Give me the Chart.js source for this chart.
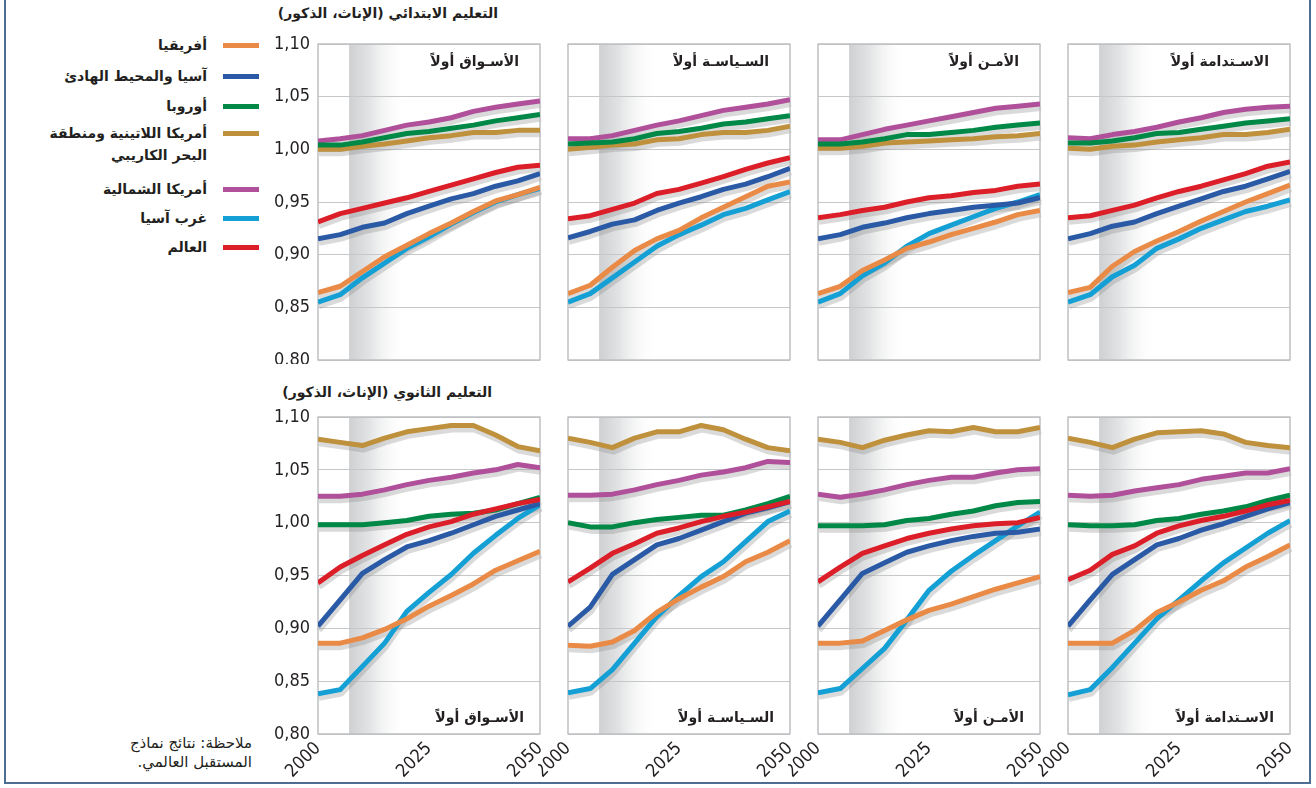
<!DOCTYPE html>
<html lang="ar">
<head>
<meta charset="utf-8">
<title>نسبة الإناث إلى الذكور في التعليم</title>
<script src="https://cdn.jsdelivr.net/npm/chart.js@4.4.1/dist/chart.umd.min.js"></script>
<style>
  html, body { margin: 0; padding: 0; background: #fff; }
  body { width: 1316px; height: 788px; position: relative; overflow: hidden;
         font-family: 'DejaVu Sans', 'Noto Sans', sans-serif; color: #231f20; }
  .frame { position: absolute; left: 4px; top: -10px; width: 1307px; height: 794px;
           border: 2px solid #4d6d93; box-sizing: border-box; }
  .txt { position: absolute; direction: rtl; white-space: pre; text-align: right; }
  .title { font-weight: bold; font-size: 14px; line-height: 20px; }
  .legend-label { font-weight: bold; font-size: 14px; line-height: 22px; }
  .legend-bar { position: absolute; width: 36px; height: 5px; }
  .note { font-size: 15px; line-height: 19px; }
  canvas { position: absolute; }
</style>
</head>
<body>
<div class="frame"></div>
<script>
// ---- data ---------------------------------------------------------------
const years = [2000, 2005, 2010, 2015, 2020, 2025, 2030, 2035, 2040, 2045, 2050];
const xTickYears = [2000, 2025, 2050];
const yTickValues = [0.80, 0.85, 0.90, 0.95, 1.00, 1.05, 1.10];

const regionNames = [
  'أفريقيا',
  'آسيا والمحيط الهادئ',
  'أوروبا',
  'أمريكا اللاتينية ومنطقة البحر الكاريبي',
  'أمريكا الشمالية',
  'غرب آسيا',
  'العالم'
];
const legendLines = [
  'أفريقيا',
  'آسيا والمحيط الهادئ',
  'أوروبا',
  'أمريكا اللاتينية ومنطقة\nالبحر الكاريبي',
  'أمريكا الشمالية',
  'غرب آسيا',
  'العالم'
];
const regionColors = ['#e98b46', '#2a5aa6', '#008846', '#bf913c', '#b0509a', '#14a0d4', '#dc1e28'];
const drawOrder = [1, 2, 3, 4, 5, 6, 0];

const scenarioNames = ['الأسـواق أولاً', 'السـياسـة أولاً', 'الأمـن أولاً', 'الاسـتدامة أولاً'];
const rowTitles = ['التعليم الابتدائي (الإناث، الذكور)', 'التعليم الثانوي (الإناث، الذكور)'];
const noteText = 'ملاحظة: نتائج نماذج\nالمستقبل العالمي.';

// primary education, one row per region (same order as regionNames)
const primaryMarkets = [
  [0.864, 0.870, 0.884, 0.898, 0.909, 0.920, 0.930, 0.941, 0.951, 0.957, 0.964],
  [0.915, 0.919, 0.926, 0.930, 0.939, 0.946, 0.953, 0.958, 0.965, 0.970, 0.977],
  [1.004, 1.004, 1.007, 1.011, 1.015, 1.017, 1.020, 1.023, 1.027, 1.030, 1.033],
  [1.000, 1.000, 1.003, 1.005, 1.008, 1.011, 1.013, 1.016, 1.016, 1.018, 1.018],
  [1.008, 1.010, 1.013, 1.018, 1.023, 1.026, 1.030, 1.036, 1.040, 1.043, 1.046],
  [0.855, 0.862, 0.878, 0.892, 0.906, 0.917, 0.929, 0.940, 0.950, 0.957, 0.963],
  [0.931, 0.939, 0.944, 0.949, 0.954, 0.960, 0.966, 0.972, 0.978, 0.983, 0.985]
];
const primaryPolicy = [
  [0.863, 0.871, 0.888, 0.904, 0.915, 0.923, 0.935, 0.945, 0.955, 0.965, 0.969],
  [0.916, 0.922, 0.929, 0.933, 0.942, 0.949, 0.955, 0.962, 0.967, 0.974, 0.982],
  [1.005, 1.006, 1.007, 1.010, 1.015, 1.017, 1.020, 1.024, 1.026, 1.029, 1.032],
  [1.000, 1.002, 1.004, 1.005, 1.009, 1.010, 1.014, 1.016, 1.016, 1.018, 1.022],
  [1.010, 1.010, 1.013, 1.018, 1.023, 1.027, 1.032, 1.037, 1.040, 1.043, 1.047],
  [0.855, 0.863, 0.878, 0.893, 0.908, 0.919, 0.928, 0.938, 0.944, 0.952, 0.960],
  [0.934, 0.937, 0.943, 0.949, 0.958, 0.962, 0.968, 0.974, 0.981, 0.987, 0.992]
];
const primarySecurity = [
  [0.863, 0.870, 0.885, 0.895, 0.906, 0.912, 0.919, 0.925, 0.931, 0.938, 0.942],
  [0.915, 0.919, 0.926, 0.930, 0.935, 0.939, 0.942, 0.945, 0.947, 0.949, 0.954],
  [1.005, 1.005, 1.007, 1.010, 1.014, 1.014, 1.016, 1.018, 1.021, 1.023, 1.025],
  [1.001, 1.001, 1.003, 1.006, 1.007, 1.008, 1.009, 1.010, 1.012, 1.013, 1.015],
  [1.009, 1.009, 1.014, 1.019, 1.023, 1.027, 1.031, 1.035, 1.039, 1.041, 1.043],
  [0.855, 0.863, 0.880, 0.892, 0.908, 0.920, 0.928, 0.936, 0.944, 0.950, 0.957],
  [0.935, 0.938, 0.942, 0.945, 0.950, 0.954, 0.956, 0.959, 0.961, 0.965, 0.967]
];
const primarySustainability = [
  [0.864, 0.869, 0.889, 0.903, 0.913, 0.922, 0.932, 0.941, 0.950, 0.958, 0.966],
  [0.915, 0.920, 0.927, 0.931, 0.939, 0.946, 0.953, 0.960, 0.965, 0.972, 0.979],
  [1.006, 1.006, 1.008, 1.011, 1.015, 1.016, 1.019, 1.022, 1.025, 1.027, 1.029],
  [1.001, 1.000, 1.003, 1.004, 1.007, 1.009, 1.011, 1.014, 1.014, 1.016, 1.019],
  [1.011, 1.010, 1.014, 1.017, 1.021, 1.026, 1.030, 1.035, 1.038, 1.040, 1.041],
  [0.855, 0.862, 0.879, 0.890, 0.906, 0.915, 0.925, 0.933, 0.941, 0.946, 0.952],
  [0.935, 0.937, 0.942, 0.947, 0.954, 0.960, 0.965, 0.971, 0.977, 0.984, 0.988]
];

// secondary education
const secondaryMarkets = [
  [0.886, 0.886, 0.891, 0.899, 0.909, 0.921, 0.931, 0.942, 0.955, 0.964, 0.973],
  [0.902, 0.927, 0.952, 0.965, 0.977, 0.983, 0.990, 0.998, 1.006, 1.012, 1.018],
  [0.998, 0.998, 0.998, 1.000, 1.002, 1.006, 1.008, 1.009, 1.012, 1.018, 1.024],
  [1.079, 1.076, 1.073, 1.080, 1.086, 1.089, 1.092, 1.092, 1.083, 1.072, 1.068],
  [1.025, 1.025, 1.027, 1.031, 1.036, 1.040, 1.043, 1.047, 1.050, 1.055, 1.052],
  [0.838, 0.842, 0.864, 0.886, 0.916, 0.934, 0.951, 0.971, 0.988, 1.004, 1.017],
  [0.943, 0.958, 0.969, 0.979, 0.989, 0.996, 1.001, 1.008, 1.013, 1.018, 1.022]
];
const secondaryPolicy = [
  [0.884, 0.883, 0.887, 0.898, 0.915, 0.928, 0.939, 0.949, 0.963, 0.972, 0.983],
  [0.902, 0.920, 0.951, 0.965, 0.979, 0.985, 0.993, 1.001, 1.009, 1.014, 1.020],
  [1.000, 0.996, 0.996, 1.000, 1.003, 1.005, 1.007, 1.007, 1.012, 1.018, 1.025],
  [1.080, 1.076, 1.071, 1.080, 1.086, 1.086, 1.092, 1.088, 1.079, 1.071, 1.068],
  [1.026, 1.026, 1.027, 1.031, 1.036, 1.040, 1.045, 1.048, 1.052, 1.058, 1.057],
  [0.839, 0.843, 0.861, 0.886, 0.911, 0.931, 0.949, 0.963, 0.982, 1.001, 1.011],
  [0.944, 0.957, 0.971, 0.980, 0.990, 0.995, 1.001, 1.006, 1.010, 1.015, 1.020]
];
const secondarySecurity = [
  [0.886, 0.886, 0.888, 0.898, 0.908, 0.917, 0.923, 0.930, 0.937, 0.943, 0.949],
  [0.902, 0.927, 0.952, 0.962, 0.972, 0.978, 0.983, 0.987, 0.990, 0.991, 0.994],
  [0.997, 0.997, 0.997, 0.998, 1.002, 1.004, 1.008, 1.011, 1.016, 1.019, 1.020],
  [1.079, 1.076, 1.071, 1.078, 1.083, 1.087, 1.086, 1.090, 1.086, 1.086, 1.090],
  [1.027, 1.024, 1.027, 1.031, 1.036, 1.040, 1.043, 1.043, 1.047, 1.050, 1.051],
  [0.839, 0.843, 0.862, 0.881, 0.908, 0.936, 0.954, 0.969, 0.983, 0.997, 1.010],
  [0.944, 0.958, 0.971, 0.978, 0.985, 0.990, 0.994, 0.997, 0.999, 1.000, 1.005]
];
const secondarySustainability = [
  [0.886, 0.886, 0.886, 0.898, 0.915, 0.925, 0.936, 0.945, 0.958, 0.968, 0.979],
  [0.902, 0.927, 0.951, 0.965, 0.979, 0.985, 0.993, 0.999, 1.006, 1.013, 1.019],
  [0.998, 0.997, 0.997, 0.998, 1.002, 1.004, 1.008, 1.011, 1.015, 1.021, 1.026],
  [1.080, 1.076, 1.071, 1.079, 1.085, 1.086, 1.087, 1.084, 1.076, 1.073, 1.071],
  [1.026, 1.025, 1.026, 1.030, 1.033, 1.036, 1.041, 1.044, 1.047, 1.047, 1.051],
  [0.837, 0.842, 0.863, 0.886, 0.909, 0.927, 0.945, 0.962, 0.976, 0.990, 1.002],
  [0.946, 0.955, 0.970, 0.978, 0.990, 0.997, 1.002, 1.006, 1.011, 1.017, 1.021]
];

const panelRows = [
  [primaryMarkets, primaryPolicy, primarySecurity, primarySustainability],
  [secondaryMarkets, secondaryPolicy, secondarySecurity, secondarySustainability]
];

// projection period shading (fades out to white)
const shadeFrom = 2007;
const shadeTo = 2020;

// ---- layout -------------------------------------------------------------
const PAGE_W = 1316;
const plotLefts = [318, 568, 818, 1068];
const plotW = 222;
const rowTops = [44, 417];
const rowHeights = [316, 317];

const axisFont = { family: "'Liberation Sans Narrow', 'DejaVu Sans Condensed', 'Roboto', sans-serif", size: 18 };
const labelFont = "bold 14px 'DejaVu Sans', 'Noto Sans', sans-serif";

function addText(cls, text, rightX, centerY, lineH) {
  const d = document.createElement('div');
  d.className = 'txt ' + cls;
  d.textContent = text;
  d.style.right = (PAGE_W - rightX) + 'px';
  d.style.top = (centerY - lineH / 2) + 'px';
  document.body.appendChild(d);
  return d;
}

// row titles
addText('title', rowTitles[0], 498, 13, 20);
addText('title', rowTitles[1], 492, 392, 20);

// legend
const legendY = [45, 76, 106, 133, 189, 218, 247];
legendLines.forEach((t, i) => {
  addText('legend-label', t, 207, legendY[i], 22);
  const bar = document.createElement('div');
  bar.className = 'legend-bar';
  bar.style.left = '223px';
  bar.style.top = (legendY[i] - 2.5) + 'px';
  bar.style.background = regionColors[i];
  document.body.appendChild(bar);
});

// note
addText('note', noteText, 252, 753, 38);

// ---- plugins ------------------------------------------------------------
const panelDecor = {
  id: 'panelDecor',
  beforeDraw(chart) {
    const { ctx, chartArea: a, scales: { x } } = chart;
    const x0 = x.getPixelForValue(shadeFrom);
    const x1 = x.getPixelForValue(shadeTo);
    const g = ctx.createLinearGradient(x0, 0, x1, 0);
    g.addColorStop(0, '#cfd0d2');
    g.addColorStop(0.35, '#e2e3e4');
    g.addColorStop(1, 'rgba(255,255,255,0)');
    ctx.save();
    ctx.fillStyle = g;
    ctx.fillRect(x0, a.top, x1 - x0, a.bottom - a.top);
    ctx.restore();
  },
  beforeDatasetsDraw(chart) {
    const { ctx, chartArea: a } = chart;
    ctx.save();
    // soft grey drop shadow under every line
    ctx.strokeStyle = 'rgba(140,140,140,0.32)';
    ctx.lineWidth = 6;
    ctx.lineJoin = 'round';
    chart.data.datasets.forEach((ds, i) => {
      const pts = chart.getDatasetMeta(i).data;
      ctx.beginPath();
      pts.forEach((p, k) => {
        if (k === 0) ctx.moveTo(p.x + 1, p.y + 4);
        else ctx.lineTo(p.x + 1, p.y + 4);
      });
      ctx.stroke();
    });
    // frame around the plot
    ctx.strokeStyle = '#bfc0c2';
    ctx.lineWidth = 1.5;
    ctx.strokeRect(a.left, a.top, a.right - a.left, a.bottom - a.top);
    ctx.restore();
  },
  afterDraw(chart, args, opts) {
    const { ctx, chartArea: a } = chart;
    ctx.save();
    ctx.font = labelFont;
    ctx.fillStyle = '#231f20';
    ctx.textAlign = 'right';
    ctx.textBaseline = 'middle';
    ctx.direction = 'rtl';
    if (opts.row === 0) ctx.fillText(opts.label, a.right - 21, a.top + 18);
    else ctx.fillText(opts.label, a.right - 16, a.bottom - 16);
    ctx.restore();
  }
};

// ---- charts -------------------------------------------------------------
panelRows.forEach((row, r) => {
  row.forEach((series, c) => {
    const padL = c === 0 ? 0 : 30;
    const yW = c === 0 ? 50 : 0;
    const padT = 10, padR = 22;
    const padB = r === 0 ? 4 : 0;
    const xH = r === 0 ? 0 : 52;

    const cv = document.createElement('canvas');
    const w = padL + yW + plotW + padR;
    const h = padT + rowHeights[r] + xH + padB;
    cv.width = w; cv.height = h;
    cv.style.width = w + 'px'; cv.style.height = h + 'px';
    cv.style.left = (plotLefts[c] - padL - yW) + 'px';
    cv.style.top = (rowTops[r] - padT) + 'px';
    document.body.appendChild(cv);

    new Chart(cv, {
      type: 'line',
      data: {
        labels: years,
        datasets: series.map((vals, i) => ({
          label: regionNames[i],
          data: vals,
          borderColor: regionColors[i],
          backgroundColor: regionColors[i],
          borderWidth: 5,
          borderJoinStyle: 'round',
          borderCapStyle: 'butt',
          pointRadius: 0,
          pointHoverRadius: 0,
          tension: 0,
          fill: false,
          order: drawOrder[i]
        }))
      },
      options: {
        responsive: false,
        animation: false,
        devicePixelRatio: 1,
        events: [],
        layout: { padding: { left: padL, right: padR, top: padT, bottom: padB } },
        plugins: {
          legend: { display: false },
          tooltip: { enabled: false },
          panelDecor: { label: scenarioNames[c], row: r }
        },
        scales: {
          x: {
            type: 'linear',
            min: 2000, max: 2050,
            grid: { display: false, drawTicks: false },
            border: { display: false },
            afterBuildTicks: s => { s.ticks = xTickYears.map(v => ({ value: v })); },
            ticks: {
              display: r === 1,
              autoSkip: false,
              minRotation: 45, maxRotation: 45,
              padding: 4,
              color: '#231f20',
              font: axisFont,
              callback: v => String(v)
            },
            afterFit: s => { s.height = xH; s.paddingLeft = 0; s.paddingRight = 0; }
          },
          y: {
            min: 0.8, max: 1.1,
            grid: { color: '#c6c7c9', lineWidth: 1, drawTicks: false },
            border: { display: false },
            afterBuildTicks: s => { s.ticks = yTickValues.map(v => ({ value: v })); },
            ticks: {
              display: c === 0,
              padding: 8,
              color: '#231f20',
              font: axisFont,
              callback: v => v.toFixed(2).replace('.', ',')
            },
            afterFit: s => { s.width = yW; s.paddingTop = 0; s.paddingBottom = 0; }
          }
        }
      },
      plugins: [panelDecor]
    });
  });
});
</script>
</body>
</html>
